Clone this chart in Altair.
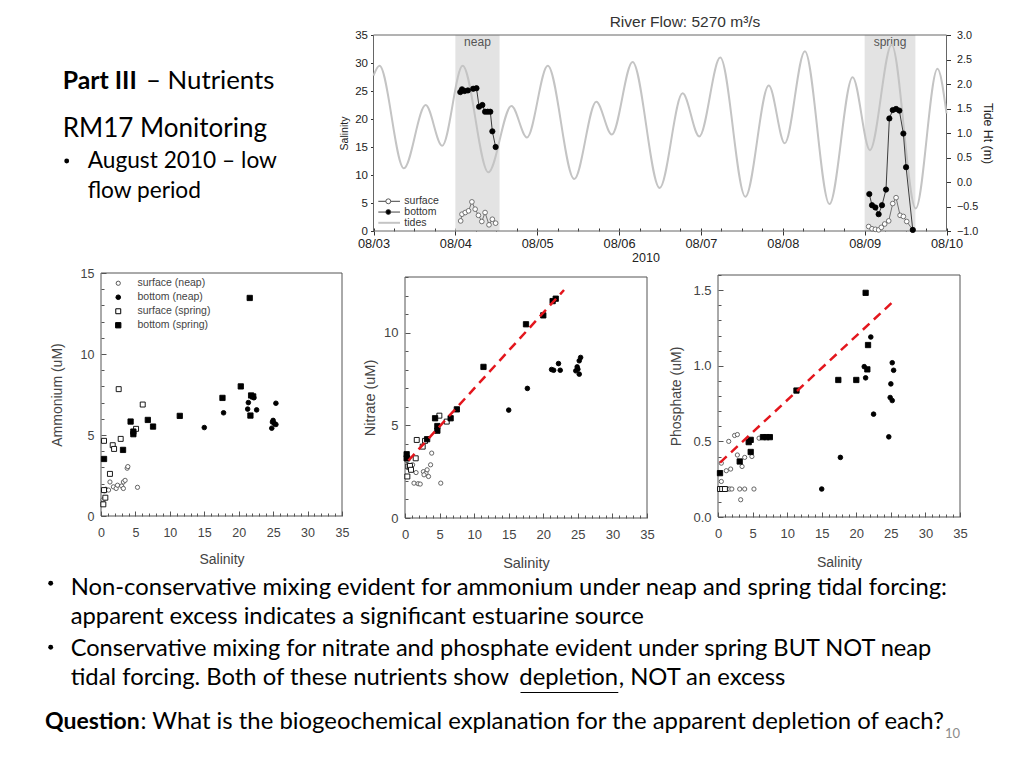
import json
import altair as alt
import pandas as pd

W, H = 1000, 745

# ------------------------------------------------------------------ data
# Top panel: days since 2010-08-03 00:00
DATE_LABELS = ["08/03", "08/04", "08/05", "08/06", "08/07", "08/08", "08/09", "08/10"]
TIDE_DAY = [0.0, 0.073, 0.371, 0.637, 0.839, 1.089, 1.403, 1.685, 1.875, 2.129, 2.452,
            2.722, 2.911, 3.165, 3.496, 3.776, 3.98, 4.236, 4.543, 4.829, 5.024, 5.27,
            5.57, 5.853, 6.065, 6.33, 6.624, 6.89, 7.0]
TIDE_HT = [2.17, 2.37, 0.28, 1.57, 0.74, 2.37, 0.20, 1.55, 0.91, 2.37, 0.06,
           1.64, 0.97, 2.45, -0.12, 1.81, 0.93, 2.54, -0.30, 1.97, 0.79, 2.67,
           -0.45, 2.14, 0.65, 2.80, -0.54, 2.31, 1.40]
NEAP_BOT_DAY = [1.060, 1.081, 1.113, 1.153, 1.218, 1.258, 1.290, 1.330, 1.363, 1.395, 1.427, 1.452, 1.492]
NEAP_BOT_SAL = [24.8, 25.3, 25.0, 25.1, 25.4, 25.5, 22.2, 22.5, 21.3, 21.3, 21.3, 17.8, 15.0]
NEAP_SUR_DAY = [1.065, 1.081, 1.121, 1.161, 1.202, 1.242, 1.282, 1.323, 1.363, 1.411, 1.452, 1.492]
NEAP_SUR_SAL = [1.8, 3.0, 3.3, 3.6, 5.2, 3.9, 2.8, 1.7, 3.3, 1.1, 2.1, 1.4]
SPR_BOT_DAY = [6.057, 6.090, 6.131, 6.171, 6.212, 6.261, 6.302, 6.343, 6.384, 6.424, 6.473, 6.506, 6.588]
SPR_BOT_SAL = [6.6, 4.6, 4.2, 3.0, 4.6, 7.4, 20.1, 21.6, 21.8, 21.5, 17.4, 11.4, 0.2]
SPR_SUR_DAY = [6.049, 6.090, 6.131, 6.171, 6.204, 6.245, 6.294, 6.343, 6.384, 6.433, 6.473, 6.514, 6.588]
SPR_SUR_SAL = [0.8, 0.4, 0.3, 0.2, 0.65, 1.25, 1.8, 4.9, 5.95, 2.8, 2.6, 1.7, 0.2]
BAND_NAMES = ["neap", "spring"]
BAND_START = [1.0, 6.0]
BAND_END = [1.54, 6.62]
TOP_LEGEND = ["surface", "bottom", "tides"]

# Scatter panels
GROUPS = ["surface (neap)", "bottom (neap)", "surface (spring)", "bottom (spring)"]

AMM = {
    GROUPS[0]: ([0.3, 0.5, 0.7, 1.1, 1.3, 1.8, 2.2, 2.4, 3.0, 3.25, 3.5, 3.8, 3.9, 3.25, 5.3],
                [1.0, 1.55, 1.65, 1.6, 2.1, 1.8, 1.7, 1.9, 1.85, 2.1, 2.2, 2.95, 3.05, 1.7, 1.77]),
    GROUPS[1]: ([15.0, 17.8, 21.3, 21.4, 22.2, 22.6, 25.4, 24.8, 25.0, 25.2, 25.4, 24.9],
                [5.46, 6.37, 6.6, 7.0, 7.3, 6.55, 6.96, 5.42, 5.9, 5.7, 5.65, 5.8]),
    GROUPS[2]: ([0.34, 0.63, 0.44, 0.44, 1.3, 1.7, 1.9, 2.86, 2.57, 5.09, 6.06],
                [0.72, 1.13, 1.6, 4.64, 2.6, 4.37, 4.14, 4.76, 7.83, 5.38, 6.88]),
    GROUPS[3]: ([0.44, 3.2, 4.3, 4.7, 4.7, 6.8, 7.56, 11.44, 17.64, 20.3, 21.8, 22.1, 21.7, 21.6],
                [3.52, 4.08, 5.83, 5.21, 5.05, 5.93, 5.52, 6.18, 7.29, 8.0, 7.44, 7.38, 6.2, 13.46]),
}
NIT = {
    GROUPS[0]: ([1.1, 1.3, 1.9, 2.2, 1.6, 2.66, 3.04, 3.2, 3.4, 3.7, 3.86, 5.17, 0.58, 2.75],
                [2.87, 1.88, 1.85, 1.83, 2.45, 2.5, 2.42, 2.6, 2.24, 2.87, 3.5, 1.88, 2.69, 2.33]),
    GROUPS[1]: ([15.0, 17.7, 21.2, 22.2, 22.45, 21.5, 24.7, 24.9, 25.2, 25.4, 25.2, 25.0],
                [5.82, 6.99, 8.01, 8.33, 7.97, 7.97, 7.94, 8.15, 8.48, 8.66, 7.76, 8.03]),
    GROUPS[2]: ([0.34, 0.48, 0.72, 0.87, 0.34, 1.55, 1.7, 2.56, 2.9, 4.97, 6.04],
                [2.24, 2.78, 2.81, 2.6, 3.22, 3.22, 4.21, 3.85, 4.16, 5.52, 5.2]),
    GROUPS[3]: ([0.24, 0.24, 3.2, 4.35, 4.68, 4.68, 6.6, 7.5, 11.35, 17.5, 20.0, 21.35, 21.8],
                [3.44, 3.22, 4.25, 5.38, 4.96, 4.71, 5.38, 5.86, 8.15, 10.45, 10.93, 11.7, 11.83]),
}
PHO = {
    GROUPS[0]: ([0.48, 0.48, 0.24, 0.5, 0.8, 1.1, 1.4, 1.7, 2.0, 1.2, 1.83, 1.55, 2.4, 2.8, 2.8,
                 3.14, 3.86, 3.28, 3.48, 3.86, 4.9, 5.2, 5.94],
                [0.356, 0.235, 0.185, 0.185, 0.185, 0.185, 0.185, 0.185, 0.185, 0.306, 0.317, 0.5,
                 0.539, 0.545, 0.41, 0.185, 0.185, 0.114, 0.334, 0.394, 0.4, 0.185, 0.521]),
    GROUPS[1]: ([15.0, 17.7, 21.15, 21.35, 22.1, 22.5, 24.7, 24.9, 25.0, 25.2, 25.2, 25.4],
                [0.185, 0.394, 0.994, 0.92, 1.19, 0.68, 0.53, 0.79, 0.88, 0.77, 1.02, 0.97]),
    GROUPS[2]: ([0.3, 0.6, 1.0], [0.185, 0.185, 0.185]),
    GROUPS[3]: ([0.29, 3.14, 4.44, 4.73, 4.73, 6.5, 7.0, 7.5, 11.35, 17.4, 20.0, 21.35, 21.7, 21.6],
                [0.29, 0.367, 0.495, 0.51, 0.43, 0.528, 0.528, 0.528, 0.836, 0.906, 0.906, 1.482, 1.137, 0.976]),
}
NIT_FIT_SAL = [0.5, 23.0]
NIT_FIT_VAL = [3.1, 12.3]
PHO_FIT_SAL = [0.3, 25.7]
PHO_FIT_VAL = [0.36, 1.44]

SAL_DOMAIN = [0, 35]
SAL_MAJOR = list(range(0, 36, 5))
SAL_MINOR = list(range(0, 36))

# ------------------------------------------------------------------ layout (chart pixels)
TOP = dict(x0=365.5, x1=938.5, y0=223, y1=27)
BOX_AMM = (93, 334, 508, 265)
BOX_NIT = (397, 639, 510, 269)
BOX_PHO = (710, 952, 509, 267)

SHAPES = ["circle", "circle", "square", "square"]
FILLS = ["white", "black", "white", "black"]
STROKES = ["#555555", "black", "black", "black"]
SIZES = [18, 28, 38, 40]

AXF = "Liberation Sans"
SLIDEF = "Lato"


def ax_style(label_size, title_size):
    return dict(labelFont=AXF, labelFontSize=label_size, labelColor="#444444", titleFont=AXF,
                titleFontSize=title_size, titleFontWeight="normal", titleColor="#444444",
                labelFlush=False, labelOverlap=False, grid=False)


def tick_size(test, major, minor):
    return {"condition": {"test": test, "value": major}, "value": minor}


# ------------------------------------------------------------------ top panel
tx = alt.Scale(domain=[0, 7], range=[TOP["x0"], TOP["x1"]], nice=False, zero=False)
tys = alt.Scale(domain=[0, 35], range=[TOP["y0"], TOP["y1"]], nice=False, zero=False)
tyt = alt.Scale(domain=[-1, 3], range=[TOP["y0"], TOP["y1"]], nice=False, zero=False)
TOP_AX = dict(labelFont=AXF, labelColor="#222222", titleFont=AXF,
              titleFontWeight="normal", titleColor="#222222", labelFlush=False,
              labelOverlap=False, grid=False, domain=False, tickColor="#333333")

band_df = pd.DataFrame({"name": BAND_NAMES, "start": BAND_START, "end": BAND_END})
band_df["lo"] = 0
band_df["hi"] = 35
band_df["mid"] = (band_df["start"] + band_df["end"]) / 2

top_frame_df = pd.DataFrame({"x0": [0], "x1": [7], "y0": [0], "y1": [35]})

band = alt.Chart(band_df).mark_rect(color="#e3e3e3").encode(
    x=alt.X("start:Q", scale=tx, axis=alt.Axis(
        orient="bottom", offset=TOP["y0"] - H, values=list(range(8)),
        labelExpr=json.dumps(DATE_LABELS) + "[datum.value]", tickSize=4, labelPadding=2,
        labelFontSize=12.8, title=None, **TOP_AX)),
    x2="end:Q",
    y=alt.Y("lo:Q", scale=tys, axis=alt.Axis(
        orient="left", offset=-TOP["x0"], values=list(range(0, 36, 5)), tickSize=3,
        labelPadding=3, labelFontSize=11.5, title="Salinity", titleFontSize=10.5,
        titlePadding=5, **TOP_AX)),
    y2="hi:Q",
)
band_txt = alt.Chart(band_df).mark_text(font=AXF, fontSize=12, color="#555555",
                                        baseline="top", dy=2).encode(
    x=alt.X("mid:Q", scale=tx, axis=None),
    y=alt.Y("hi:Q", scale=tys, axis=None),
    text="name:N",
)
top_ticks = alt.Chart(top_frame_df).mark_point(opacity=0).encode(
    x=alt.X("x0:Q", scale=tx, axis=alt.Axis(
        orient="top", offset=-TOP["y0"], values=[i / 4 for i in range(29)], labels=False,
        domain=False, grid=False, title=None, tickColor="#333333", tickSize=3)),
    y=alt.Y("y0:Q", scale=tys, axis=None),
)
top_frame = alt.Chart(top_frame_df).mark_rect(fillOpacity=0, stroke="#666666", strokeWidth=1).encode(
    x=alt.X("x0:Q", scale=tx, axis=None), x2="x1:Q",
    y=alt.Y("y0:Q", scale=tys, axis=None), y2="y1:Q",
)

tide = alt.Chart(pd.DataFrame({"day": TIDE_DAY, "ht": TIDE_HT})).mark_line(
    color="#c4c4c4", strokeWidth=2, interpolate="monotone").encode(
    x=alt.X("day:Q", scale=tx, axis=None),
    y=alt.Y("ht:Q", scale=tyt, axis=alt.Axis(
        orient="right", offset=TOP["x1"] - W, values=[-1 + 0.5 * i for i in range(9)],
        format=".1f", tickSize=4, labelPadding=6, labelFontSize=10.8, title="Tide Ht (m)",
        titleFontSize=12.3, titlePadding=3, **TOP_AX)),
)

sur_df = pd.concat([
    pd.DataFrame({"day": NEAP_SUR_DAY, "sal": NEAP_SUR_SAL, "tide": "neap"}),
    pd.DataFrame({"day": SPR_SUR_DAY, "sal": SPR_SUR_SAL, "tide": "spring"}),
])
bot_df = pd.concat([
    pd.DataFrame({"day": NEAP_BOT_DAY, "sal": NEAP_BOT_SAL, "tide": "neap"}),
    pd.DataFrame({"day": SPR_BOT_DAY, "sal": SPR_BOT_SAL, "tide": "spring"}),
])
enc_ts = dict(x=alt.X("day:Q", scale=tx, axis=None), y=alt.Y("sal:Q", scale=tys, axis=None),
              detail="tide:N")
sur_line = alt.Chart(sur_df).mark_line(color="#555555", strokeWidth=0.8).encode(**enc_ts)
sur_pts = alt.Chart(sur_df).mark_point(filled=True, fill="white", stroke="#555555",
                                       strokeWidth=0.8, size=22, opacity=1).encode(**enc_ts)
bot_line = alt.Chart(bot_df).mark_line(color="#111111", strokeWidth=0.8).encode(**enc_ts)
bot_pts = alt.Chart(bot_df).mark_point(filled=True, fill="black", stroke="black",
                                       strokeWidth=0.8, size=28, opacity=1).encode(**enc_ts)

top_group = alt.layer(band, band_txt, top_ticks, top_frame, tide,
                      sur_line, sur_pts, bot_line, bot_pts).resolve_scale(y="independent")

# top legend
leg_df = pd.DataFrame({"label": TOP_LEGEND})
ly = alt.Y("label:N", scale=alt.Scale(type="point", domain=TOP_LEGEND, range=[193.3, 214.8],
                                      padding=0), axis=None)
leg_rule = alt.Chart(leg_df).mark_rule().encode(
    x=alt.value(370.3), x2=alt.value(392), y=ly,
    stroke=alt.condition("datum.label === 'tides'", alt.value("#c4c4c4"), alt.value("#444444")),
    strokeWidth=alt.condition("datum.label === 'tides'", alt.value(2), alt.value(1)),
)
leg_pts = alt.Chart(leg_df).transform_filter("datum.label !== 'tides'").mark_point(
    filled=True, size=24, strokeWidth=0.8, stroke="#333333", opacity=1).encode(
    x=alt.value(380.3), y=ly,
    fill=alt.condition("datum.label === 'bottom'", alt.value("black"), alt.value("white")),
)
leg_txt = alt.Chart(leg_df).mark_text(font=AXF, fontSize=10.5, color="#333333", align="left",
                                      baseline="middle").encode(
    x=alt.value(396.3), y=ly, text="label:N")
top_legend = alt.layer(leg_rule, leg_pts, leg_txt)


# ------------------------------------------------------------------ scatter panels
def scatter(table, box, ydom, ymajor, yminor, ytest, ytitle, ytpad, xtpad, yfmt, legend,
            label_size, title_size, fit=None):
    sty = ax_style(label_size, title_size)
    xs = alt.Scale(domain=SAL_DOMAIN, range=[box[0], box[1]], nice=False, zero=False)
    ys = alt.Scale(domain=ydom, range=[box[2], box[3]], nice=False, zero=False)
    fdf = pd.DataFrame({"x0": [SAL_DOMAIN[0]], "x1": [SAL_DOMAIN[1]],
                        "y0": [ydom[0]], "y1": [ydom[1]]})
    frame = alt.Chart(fdf).mark_rect(fillOpacity=0, stroke="#555555", strokeWidth=1).encode(
        x=alt.X("x0:Q", scale=xs, axis=alt.Axis(
            orient="bottom", offset=box[2] - H, values=SAL_MAJOR, ticks=False, domain=False,
            labelPadding=10, title="Salinity", titlePadding=xtpad, **sty)),
        x2="x1:Q",
        y=alt.Y("y0:Q", scale=ys, axis=alt.Axis(
            orient="left", offset=-box[0], values=ymajor, format=yfmt, ticks=False,
            domain=False, labelPadding=7, title=ytitle, titlePadding=ytpad, **sty)),
        y2="y1:Q",
    )
    ticks = alt.Chart(fdf).mark_point(opacity=0).encode(
        x=alt.X("x0:Q", scale=xs, axis=alt.Axis(
            orient="top", offset=-box[2], values=SAL_MINOR, labels=False, domain=False,
            grid=False, title=None, tickColor="#555555",
            tickSize=tick_size("datum.value % 5 === 0", 5, 3))),
        y=alt.Y("y0:Q", scale=ys, axis=alt.Axis(
            orient="right", offset=box[0] - W, values=yminor, labels=False, domain=False,
            grid=False, title=None, tickColor="#555555", tickSize=tick_size(ytest, 5, 3))),
    )
    pdf = pd.concat([pd.DataFrame({"sal": table[g][0], "val": table[g][1], "group": g})
                     for g in GROUPS])
    pts = alt.Chart(pdf).mark_point(filled=True, strokeWidth=0.9, opacity=1).encode(
        x=alt.X("sal:Q", scale=xs, axis=None),
        y=alt.Y("val:Q", scale=ys, axis=None),
        shape=alt.Shape("group:N", scale=alt.Scale(domain=GROUPS, range=SHAPES), legend=legend),
        fill=alt.Fill("group:N", scale=alt.Scale(domain=GROUPS, range=FILLS), legend=legend),
        stroke=alt.Stroke("group:N", scale=alt.Scale(domain=GROUPS, range=STROKES), legend=legend),
        size=alt.Size("group:N", scale=alt.Scale(domain=GROUPS, range=SIZES), legend=legend),
    )
    layers = [frame, ticks, pts]
    if fit is not None:
        line = alt.Chart(pd.DataFrame({"sal": fit[0], "val": fit[1]})).mark_line(
            color="#e3161d", strokeDash=[9, 6], strokeWidth=2.5).encode(
            x=alt.X("sal:Q", scale=xs, axis=None), y=alt.Y("val:Q", scale=ys, axis=None))
        layers.append(line)
    return alt.layer(*layers)


sc_legend = alt.Legend(orient="none", legendX=105, legendY=270, title=None, labelFont=AXF,
                       labelFontSize=10.5, labelColor="#444444", labelOffset=14,
                       rowPadding=3, padding=0, symbolStrokeWidth=1)

amm = scatter(AMM, BOX_AMM, [0, 15], [0, 5, 10, 15], list(range(16)),
              "datum.value % 5 === 0", "Ammonium (uM)", 16, 14, "d", sc_legend, 12.5, 14)
nit = scatter(NIT, BOX_NIT, [0, 13], [0, 5, 10], list(range(14)),
              "datum.value % 5 === 0", "Nitrate (uM)", 6, 15, "d", None, 13, 14.5,
              fit=(NIT_FIT_SAL, NIT_FIT_VAL))
pho = scatter(PHO, BOX_PHO, [0, 1.6], [0, 0.5, 1.0, 1.5], [i / 10 for i in range(17)],
              "round(datum.value * 10) % 5 === 0", "Phosphate (uM)", 9, 15, ".1f", None,
              13, 14, fit=(PHO_FIT_SAL, PHO_FIT_VAL))

# ------------------------------------------------------------------ slide text
SLIDE_TEXT = [
    # text, x, y (baseline), size, weight, font, color, align
    ("Part III", 54.7, 81.3, 24.8, "bold", SLIDEF, "black", "left"),
    ("– Nutrients", 138, 81.3, 25.8, "normal", SLIDEF, "black", "left"),
    ("RM17 Monitoring", 54.7, 128.7, 26, "normal", SLIDEF, "black", "left"),
    ("August 2010 – low", 79.7, 160.3, 22.7, "normal", SLIDEF, "black", "left"),
    ("flow period", 79.7, 190.3, 22.7, "normal", SLIDEF, "black", "left"),
    ("Non-conservative mixing evident for ammonium under neap and spring tidal forcing:",
     62.7, 587, 23.8, "normal", SLIDEF, "black", "left"),
    ("apparent excess indicates a significant estuarine source",
     62.7, 616, 23.8, "normal", SLIDEF, "black", "left"),
    ("Conservative mixing for nitrate and phosphate evident under spring BUT NOT neap",
     62.7, 648, 23.6, "normal", SLIDEF, "black", "left"),
    ("tidal forcing.  Both of these nutrients show", 62.7, 677, 23.8, "normal", SLIDEF, "black", "left"),
    ("depletion", 511.3, 677, 23.8, "normal", SLIDEF, "black", "left"),
    (", NOT an excess", 610.7, 677, 23.8, "normal", SLIDEF, "black", "left"),
    ("Question", 37, 721, 23, "bold", SLIDEF, "black", "left"),
    (": What is the biogeochemical explanation for the apparent depletion of each?",
     132.5, 721, 23.9, "normal", SLIDEF, "black", "left"),
    ("10", 937, 730.3, 13, "normal", SLIDEF, "#8c8c8c", "left"),
    ("River Flow: 5270 m³/s", 677, 18.5, 15.5, "normal", AXF, "#333333", "center"),
    ("2010", 638, 254, 12.5, "normal", AXF, "#222222", "center"),
]
BULLETS = [(42.7, 575.3), (42.7, 639.3), (58.7, 153)]
UNDERLINE = (512.5, 610.3, 684.5)

texts = []
for t, x, y, s, wgt, f, c, a in SLIDE_TEXT:
    texts.append(alt.Chart().mark_text(text=t, font=f, fontSize=s, fontWeight=wgt, color=c,
                                       align=a, baseline="alphabetic").encode(
        x=alt.value(x), y=alt.value(y)))
for bx, by in BULLETS:
    texts.append(alt.Chart().mark_circle(color="black", size=24, opacity=1).encode(
        x=alt.value(bx), y=alt.value(by)))
texts.append(alt.Chart().mark_rule(color="black", strokeWidth=1.2).encode(
    x=alt.value(UNDERLINE[0]), x2=alt.value(UNDERLINE[1]), y=alt.value(UNDERLINE[2])))

chart = alt.layer(top_group, top_legend, amm, nit, pho, *texts,
                  data=pd.DataFrame({"k": [0]})).resolve_scale(
    x="independent", y="independent").properties(
    width=W, height=H, padding=0, autosize=alt.AutoSizeParams(type="none"),
    background="white").configure_view(strokeWidth=0)

chart.save("out.html", embed_options={"renderer": "svg", "actions": False})
